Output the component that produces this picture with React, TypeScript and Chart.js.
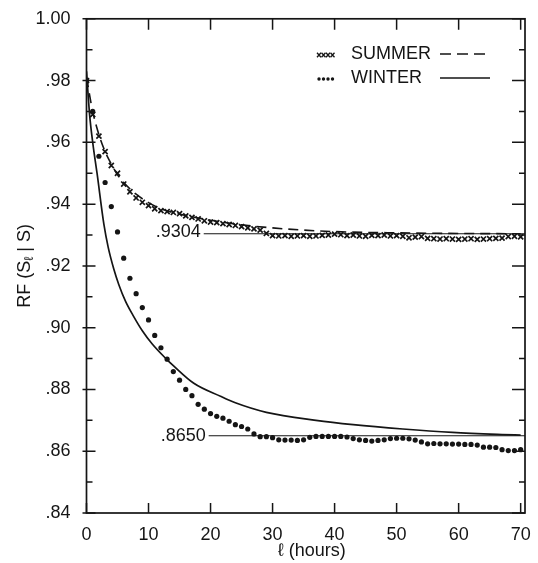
import React, { useEffect, useRef } from "react";
import { Chart, registerables } from "chart.js";

Chart.register(...registerables);

const hours = [0,1,2,3,4,5,6,7,8,9,10,11,12,13,14,15,16,17,18,19,20,21,22,23,24,25,26,27,28,29,30,31,32,33,34,35,36,37,38,39,40,41,42,43,44,45,46,47,48,49,50,51,52,53,54,55,56,57,58,59,60,61,62,63,64,65,66,67,68,69,70];

const summerRF = [0.980,0.969,0.962,0.957,0.9525,0.950,0.9465,0.944,0.942,0.9406,0.9395,0.9385,0.9379,0.9376,0.9373,0.9369,0.9362,0.9357,0.9352,0.9346,0.9342,0.9340,0.9337,0.9334,0.9331,0.9327,0.9323,0.9320,0.9316,0.9305,0.9298,0.9297,0.9298,0.9296,0.9297,0.9298,0.9296,0.9297,0.9299,0.9300,0.9303,0.9301,0.9298,0.9300,0.9297,0.9296,0.9299,0.9298,0.9300,0.9297,0.9298,0.9296,0.9291,0.9293,0.9295,0.9289,0.9288,0.9287,0.9288,0.9287,0.9286,0.9287,0.9288,0.9286,0.9287,0.9288,0.9289,0.9290,0.9295,0.9296,0.9294];

const winterRF = [0.980,0.970,0.9555,0.947,0.9392,0.931,0.9225,0.916,0.911,0.9065,0.9025,0.8975,0.8935,0.8898,0.8858,0.8830,0.8800,0.8780,0.8752,0.8736,0.8722,0.8713,0.8707,0.8697,0.8686,0.8680,0.8672,0.8656,0.8647,0.8647,0.8644,0.8637,0.8636,0.8636,0.8635,0.8637,0.8645,0.8648,0.8648,0.8648,0.8648,0.8648,0.8646,0.8641,0.8637,0.8635,0.8633,0.8635,0.8637,0.8641,0.8642,0.8642,0.8640,0.8636,0.8630,0.8624,0.8625,0.8624,0.8624,0.8623,0.8623,0.8622,0.8622,0.8620,0.8613,0.8613,0.8612,0.8605,0.8602,0.8602,0.8605];

const summerFitHours = [0,1,2,3,4,5,6,8,10,12,15,20,25,30,35,40,50,60,70];
const summerFitRF = [0.981,0.970,0.9625,0.957,0.953,0.9495,0.947,0.9432,0.9405,0.9385,0.9368,0.9348,0.9333,0.9323,0.9316,0.9311,0.9307,0.9305,0.9304];

const winterFitHours = [0,0.5,1,1.7,2.8,3.5,4.4,5.2,6.3,7.5,9,10.6,12.8,14,17.3,21.6,24,29,37,43,51,59,67,70];
const winterFitRF = [0.983,0.969,0.960,0.950,0.9335,0.926,0.919,0.914,0.9085,0.9040,0.8990,0.8947,0.890,0.8877,0.8820,0.8778,0.8757,0.8726,0.8700,0.8686,0.8672,0.8661,0.8654,0.8652];

const refLevels = [0.9304, 0.865];
const refLabels = [".9304", ".8650"];
const refStart = [18.9, 19.7];
const refEnd = 70.7;

const xTickValues = [0,10,20,30,40,50,60,70];
const yTickValues = [0.84,0.86,0.88,0.90,0.92,0.94,0.96,0.98,1.00];

const FONT = "'Liberation Sans', Arial, sans-serif";
const INK = "#151515";

const pts = (xs: number[], ys: number[]) => xs.map((x, i) => ({ x, y: ys[i] }));

const framePlugin = {
  id: "frame",
  afterDraw(chart: any) {
    const { ctx, chartArea, scales } = chart;
    const { left, right, top, bottom } = chartArea;
    const x = scales.x;
    const y = scales.y;
    ctx.save();
    ctx.strokeStyle = INK;
    ctx.lineWidth = 1.7;
    ctx.strokeRect(left, top, right - left, bottom - top);
    ctx.lineWidth = 1.5;
    for (let i = 0; i < yTickValues.length; i++) {
      const py = y.getPixelForValue(yTickValues[i]);
      ctx.beginPath();
      ctx.moveTo(left - 4, py);
      ctx.lineTo(left + 9, py);
      ctx.moveTo(right, py);
      ctx.lineTo(right - 13, py);
      ctx.stroke();
      if (i < yTickValues.length - 1) {
        const pm = y.getPixelForValue((yTickValues[i] + yTickValues[i + 1]) / 2);
        ctx.beginPath();
        ctx.moveTo(left, pm);
        ctx.lineTo(left + 6, pm);
        ctx.moveTo(right, pm);
        ctx.lineTo(right - 6, pm);
        ctx.stroke();
      }
    }
    for (const v of xTickValues) {
      const px = x.getPixelForValue(v);
      ctx.beginPath();
      ctx.moveTo(px, bottom);
      ctx.lineTo(px, bottom - 10);
      ctx.moveTo(px, top);
      ctx.lineTo(px, top + 11);
      ctx.stroke();
    }
    ctx.fillStyle = INK;
    ctx.font = `18px ${FONT}`;
    ctx.textAlign = "right";
    ctx.textBaseline = "middle";
    for (let i = 0; i < refLevels.length; i++) {
      ctx.fillText(refLabels[i], x.getPixelForValue(refStart[i]) - 3, y.getPixelForValue(refLevels[i]) - (i === 0 ? 2 : 0));
    }
    // legend
    const lx = 317;
    const rows = [53, 77];
    ctx.textAlign = "left";
    ctx.font = `18px ${FONT}`;
    ctx.fillText("SUMMER", 351, rows[0] + 1);
    ctx.fillText("WINTER", 351, rows[1] + 1);
    ctx.lineWidth = 1.3;
    for (let k = 0; k < 4; k++) {
      const cx = lx + 2 + k * 4.5;
      const cy = rows[0] + 2;
      ctx.beginPath();
      ctx.moveTo(cx - 2, cy - 2.3);
      ctx.lineTo(cx + 2, cy + 2.3);
      ctx.moveTo(cx + 2, cy - 2.3);
      ctx.lineTo(cx - 2, cy + 2.3);
      ctx.stroke();
      ctx.beginPath();
      ctx.arc(lx + 2 + k * 4.5, rows[1] + 2, 1.7, 0, Math.PI * 2);
      ctx.fill();
    }
    ctx.lineWidth = 1.6;
    ctx.setLineDash([11, 6]);
    ctx.beginPath();
    ctx.moveTo(440, rows[0] + 1);
    ctx.lineTo(490, rows[0] + 1);
    ctx.stroke();
    ctx.setLineDash([]);
    ctx.beginPath();
    ctx.moveTo(440, rows[1] + 1);
    ctx.lineTo(490, rows[1] + 1);
    ctx.stroke();
    // axis titles
    ctx.font = `18px ${FONT}`;
    ctx.textAlign = "center";
    ctx.fillText("\u2113 (hours)", (left + right) / 2 + 6, 551);
    ctx.translate(25, (top + bottom) / 2);
    ctx.rotate(-Math.PI / 2);
    ctx.textAlign = "left";
    const p1 = "RF (S";
    const p2 = "\u2113";
    const p3 = " | S)";
    ctx.font = `18px ${FONT}`;
    const w1 = ctx.measureText(p1).width;
    const w3 = ctx.measureText(p3).width;
    ctx.font = `13px ${FONT}`;
    const w2 = ctx.measureText(p2).width;
    const total = w1 + w2 + w3;
    let cx = -total / 2;
    ctx.font = `18px ${FONT}`;
    ctx.fillText(p1, cx, 0);
    cx += w1;
    ctx.font = `13px ${FONT}`;
    ctx.fillText(p2, cx, 4);
    cx += w2;
    ctx.font = `18px ${FONT}`;
    ctx.fillText(p3, cx, 0);
    ctx.restore();
  },
};

export default function App() {
  const ref = useRef<HTMLCanvasElement | null>(null);
  useEffect(() => {
    if (!ref.current) return;
    const chart = new Chart(ref.current, {
      type: "scatter",
      data: {
        datasets: [
          {
            label: "SUMMER",
            data: pts(hours, summerRF),
            showLine: false,
            pointStyle: "crossRot",
            pointRadius: 3.6,
            pointBorderWidth: 1.7,
            borderColor: INK,
            backgroundColor: INK,
          },
          {
            label: "WINTER",
            data: pts(hours, winterRF),
            showLine: false,
            pointStyle: "circle",
            pointRadius: 2.6,
            pointBorderWidth: 0,
            borderColor: INK,
            backgroundColor: INK,
          },
          {
            label: "summer fit",
            data: pts(summerFitHours, summerFitRF),
            showLine: true,
            pointRadius: 0,
            borderColor: INK,
            borderWidth: 1.6,
            borderDash: [10, 6],
            cubicInterpolationMode: "monotone",
          },
          {
            label: "winter fit",
            data: pts(winterFitHours, winterFitRF),
            showLine: true,
            pointRadius: 0,
            borderColor: INK,
            borderWidth: 1.7,
            cubicInterpolationMode: "monotone",
          },
          {
            label: "ref1",
            data: [{ x: refStart[0], y: refLevels[0] }, { x: refEnd, y: refLevels[0] }],
            showLine: true,
            pointRadius: 0,
            borderColor: INK,
            borderWidth: 1.1,
          },
          {
            label: "ref2",
            data: [{ x: refStart[1], y: refLevels[1] }, { x: refEnd, y: refLevels[1] }],
            showLine: true,
            pointRadius: 0,
            borderColor: INK,
            borderWidth: 1.1,
          },
        ],
      },
      options: {
        animation: false,
        responsive: false,
        maintainAspectRatio: false,
        layout: { padding: { left: 0, right: 13, top: 15, bottom: 0 } },
        plugins: { legend: { display: false }, tooltip: { enabled: false }, title: { display: false } },
        scales: {
          x: {
            type: "linear",
            min: 0,
            max: 70.7,
            afterBuildTicks: (s: any) => {
              s.ticks = xTickValues.map((v) => ({ value: v }));
            },
            afterFit: (s: any) => {
              s.height = 50;
            },
            grid: { display: false },
            border: { display: false },
            ticks: {
              color: INK,
              font: { family: FONT, size: 18 },
              padding: 3,
              maxRotation: 0,
              autoSkip: false,
            },
          },
          y: {
            type: "linear",
            min: 0.84,
            max: 1.0,
            afterBuildTicks: (s: any) => {
              s.ticks = yTickValues.map((v) => ({ value: v }));
            },
            afterFit: (s: any) => {
              s.width = 86.5;
            },
            grid: { display: false },
            border: { display: false },
            ticks: {
              color: INK,
              font: { family: FONT, size: 18 },
              padding: 8,
              autoSkip: false,
              callback: (v: any) => {
                const s = Number(v).toFixed(2);
                return s.startsWith("0") ? s.slice(1) : s;
              },
            },
          },
        },
      },
      plugins: [framePlugin],
    } as any);
    return () => chart.destroy();
  }, []);
  return (
    <div style={{ position: "fixed", left: 0, top: 0, width: 538, height: 563, background: "#fff" }}>
      <canvas ref={ref} width={538} height={563} style={{ width: 538, height: 563 }} />
    </div>
  );
}
